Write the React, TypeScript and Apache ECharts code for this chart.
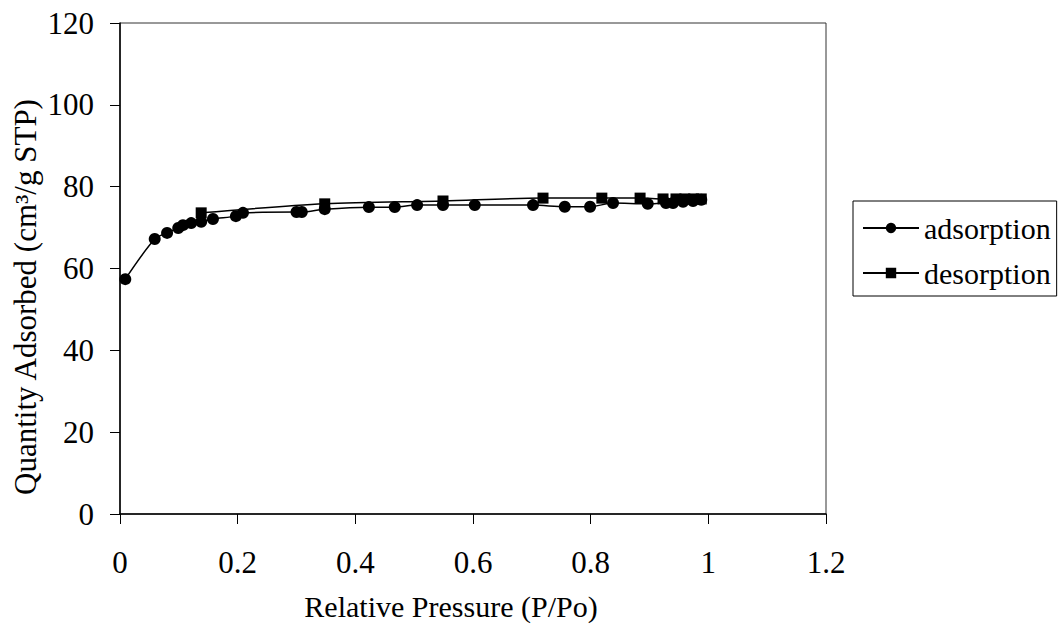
import React, { useEffect, useRef } from "react";
import * as echarts from "echarts";

const adsorptionX = [0.009, 0.059, 0.080, 0.099, 0.107, 0.121, 0.138, 0.158, 0.197, 0.209, 0.300, 0.309, 0.348, 0.423, 0.467, 0.505, 0.549, 0.603, 0.702, 0.756, 0.799, 0.838, 0.897, 0.928, 0.940, 0.957, 0.974, 0.988];
const adsorptionY = [57.4, 67.2, 68.7, 69.9, 70.6, 71.1, 71.4, 72.1, 72.8, 73.6, 73.8, 73.8, 74.5, 75.0, 75.0, 75.5, 75.5, 75.5, 75.5, 75.1, 75.1, 76.0, 75.8, 76.0, 76.0, 76.3, 76.5, 76.8];

const desorptionX = [0.988, 0.975, 0.960, 0.945, 0.923, 0.884, 0.819, 0.719, 0.549, 0.348, 0.138];
const desorptionY = [77.0, 77.0, 77.0, 77.0, 77.0, 77.2, 77.2, 77.2, 76.5, 75.8, 73.6];

const xTitle = "Relative Pressure (P/Po)";
const yTitle = "Quantity Adsorbed (cm³/g STP)";
const seriesNames = ["adsorption", "desorption"];

const FONT = "'Liberation Serif', 'Times New Roman', serif";

export default function App() {
  const ref = useRef<HTMLDivElement>(null);
  useEffect(() => {
    if (!ref.current) return;
    const chart = echarts.init(ref.current, null, { renderer: "svg" });
    const zip = (xs: number[], ys: number[]) => xs.map((x, i) => [x, ys[i]]);
    chart.setOption({
      animation: false,
      backgroundColor: "#ffffff",
      textStyle: { fontFamily: FONT, color: "#000" },
      grid: {
        left: 120,
        right: 236,
        top: 23,
        bottom: 112,
        show: true,
        borderColor: "#333",
        borderWidth: 1,
      },
      xAxis: {
        type: "value",
        min: 0,
        max: 1.2,
        interval: 0.2,
        axisLine: { show: true, onZero: false, lineStyle: { color: "#000", width: 1.5 } },
        axisTick: { show: true, inside: false, length: 10, lineStyle: { color: "#000", width: 1 } },
        axisLabel: { fontFamily: FONT, fontSize: 31, color: "#000", margin: 33 },
        splitLine: { show: false },
      },
      yAxis: {
        type: "value",
        min: 0,
        max: 120,
        interval: 20,
        axisLine: { show: true, onZero: false, lineStyle: { color: "#000", width: 1.5 } },
        axisTick: { show: true, inside: false, length: 10, lineStyle: { color: "#000", width: 1 } },
        axisLabel: { fontFamily: FONT, fontSize: 31, color: "#000", margin: 26 },
        splitLine: { show: false },
      },
      legend: {
        orient: "vertical",
        left: 853,
        top: 201,
        data: seriesNames,
        borderColor: "#000",
        borderWidth: 1,
        padding: [12, 6, 8, 9],
        itemGap: 15,
        itemWidth: 56,
        itemHeight: 13,
        textStyle: { fontFamily: FONT, fontSize: 30, color: "#000" },
      },
      graphic: [
        {
          type: "text",
          x: 451,
          y: 606,
          style: {
            text: xTitle,
            fontFamily: FONT,
            fontSize: 30,
            fill: "#000",
            textAlign: "center",
            textVerticalAlign: "middle",
          },
        },
        {
          type: "text",
          x: 25,
          y: 297,
          rotation: Math.PI / 2,
          style: {
            text: yTitle,
            fontFamily: FONT,
            fontSize: 31,
            fill: "#000",
            textAlign: "center",
            textVerticalAlign: "middle",
          },
        },
      ],
      series: [
        {
          name: seriesNames[0],
          type: "line",
          data: zip(adsorptionX, adsorptionY),
          smooth: 0.3,
          symbol: "circle",
          symbolSize: 12,
          lineStyle: { color: "#000", width: 1.5 },
          itemStyle: { color: "#000" },
        },
        {
          name: seriesNames[1],
          type: "line",
          data: zip(desorptionX, desorptionY),
          smooth: 0.3,
          symbol: "rect",
          symbolSize: 11,
          lineStyle: { color: "#000", width: 1.5 },
          itemStyle: { color: "#000" },
        },
      ],
    });
    return () => chart.dispose();
  }, []);
  return (
    <div
      ref={ref}
      style={{ position: "fixed", left: 0, top: 0, width: 1062, height: 626, background: "#fff" }}
    />
  );
}
